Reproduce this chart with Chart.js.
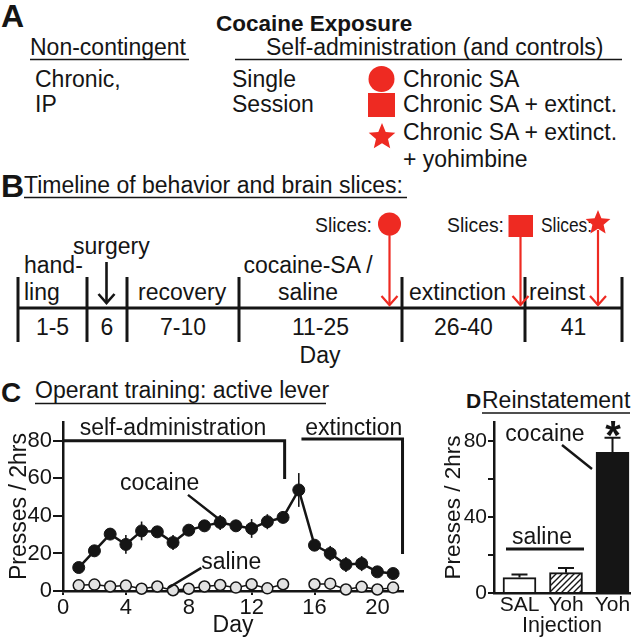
<!DOCTYPE html>
<html>
<head>
<meta charset="utf-8">
<script src="https://cdn.jsdelivr.net/npm/chart.js@4.4.1/dist/chart.umd.min.js"></script>
<style>
  html, body { margin: 0; padding: 0; background: #fff; }
  #fig { position: relative; width: 638px; height: 639px; overflow: hidden; font-family: "Liberation Sans", Arial, sans-serif; }
  #art { position: absolute; left: 0; top: 0; }
  #chartC { position: absolute; left: 0; top: 380px; }
  #chartD { position: absolute; left: 420px; top: 380px; }
</style>
</head>
<body>
<div id="fig">
  <svg id="art" width="638" height="639" xmlns="http://www.w3.org/2000/svg"></svg>
  <canvas id="chartC" width="420" height="259"></canvas>
  <canvas id="chartD" width="218" height="259"></canvas>
</div>
<script>
// ---- data: panel C (operant training, active lever presses / 2 hrs) ----
const days = [1, 2, 3, 4, 5, 6, 7, 8, 9, 10, 11, 12, 13, 14, 15, 16, 17, 18, 19, 20, 21];
const cocaine = [12.5, 21.4, 30.3, 24.8, 32, 31.5, 25.8, 32.4, 34.7, 36.5, 34.7, 33.3, 36.9, 39.2, 53.8, 24.4, 20, 14.1, 14.6, 10.2, 9.3];
const cocaineSem = [2, 3, 3, 5, 5, 3, 4, 3, 3, 4, 3, 5, 4, 3, 9, 3, 4, 4, 4, 2, 2];
const saline = [3, 3.4, 2.4, 2.9, 1.2, 2.4, 0.4, 1.2, 2.4, 3.2, 1.8, 3.6, 1.4, 3.6, null, 3.6, 3.9, 0.8, 2.2, 0.8, 1.8];
const dayTicks = [0, 4, 8, 12, 16, 20];
const pressTicks = [0, 20, 40, 60, 80];

// ---- data: panel D (reinstatement) ----
const injLabels = ['SAL', 'Yoh', 'Yoh'];
const reinstMean = [8.1, 10.7, 74];
const reinstSem = [1.7, 2.5, 7.7];
const reinstTicks = [0, 20, 40, 60, 80];
const reinstLabeled = [0, 40, 80];

// ---- panel B timeline ----
const tlEdges = [18, 87, 127, 239, 402, 525, 622];
const tlDays = ['1-5', '6', '7-10', '11-25', '26-40', '41'];

const INK = '#151515';
const RED = '#ee2a22';
const FONT = "'Liberation Sans', Arial, sans-serif";

Chart.defaults.font.family = FONT;
Chart.defaults.color = INK;

// ---------- panels A and B, plus titles for C and D (svg) ----------
const svg = document.getElementById('art');
let out = '';
function t(x, y, s, size, extra) {
  out += `<text x="${x}" y="${y}" font-size="${size}" fill="${INK}" ${extra || ''}>${s}</text>`;
}
function ln(x1, y1, x2, y2, w, col) {
  out += `<line x1="${x1}" y1="${y1}" x2="${x2}" y2="${y2}" stroke="${col || INK}" stroke-width="${w}"/>`;
}
function star(cx, cy, r) {
  let p = '';
  for (let i = 0; i < 10; i++) {
    const a = -Math.PI / 2 + i * Math.PI / 5;
    const rr = i % 2 ? r * 0.45 : r;
    p += (i ? 'L' : 'M') + (cx + rr * Math.cos(a)).toFixed(1) + ',' + (cy + rr * Math.sin(a)).toFixed(1);
  }
  out += `<path d="${p}Z" fill="${RED}"/>`;
}
function downArrow(x, y1, y2, col, w) {
  ln(x, y1, x, y2, w, col);
  out += `<polyline points="${x - 8},${y2 - 9} ${x},${y2} ${x + 8},${y2 - 9}" fill="none" stroke="${col}" stroke-width="${w}"/>`;
}

// A
t(1, 27, 'A', 32, 'font-weight="bold"');
t(216, 31, 'Cocaine Exposure', 22.5, 'font-weight="bold"');
t(30, 55, 'Non-contingent', 23);
ln(30, 59.5, 189, 59.5, 1.6);
t(266, 55, 'Self-administration (and controls)', 23);
ln(235, 59.5, 622, 59.5, 1.6);
t(35, 87, 'Chronic,', 23);
t(35, 112, 'IP', 23);
t(232, 87, 'Single', 23);
t(232, 112, 'Session', 23);
out += `<circle cx="381.5" cy="79" r="13" fill="${RED}"/>`;
t(403, 87, 'Chronic SA', 23);
out += `<rect x="368" y="93" width="27" height="24" fill="${RED}"/>`;
t(403, 112, 'Chronic SA + extinct.', 23);
star(382, 137, 14);
t(403, 140, 'Chronic SA + extinct.', 23);
t(403, 167, '+ yohimbine', 23);

// B
t(1, 197, 'B', 32, 'font-weight="bold"');
t(24, 193, 'Timeline of behavior and brain slices:', 23);
ln(24, 197.5, 407, 197.5, 1.6);
ln(tlEdges[0], 308, tlEdges[tlEdges.length - 1], 308, 3);
tlEdges.forEach(x => ln(x, 277, x, 342, 3));
tlDays.forEach((d, i) => t((tlEdges[i] + tlEdges[i + 1]) / 2, 335, d, 23, 'text-anchor="middle"'));
t(320, 363, 'Day', 23, 'text-anchor="middle"');
t(24, 273, 'hand-', 23);
t(24, 300, 'ling', 23);
t(73, 254, 'surgery', 23);
downArrow(106.5, 262, 303, INK, 2.6);
t(138, 300, 'recovery', 23);
t(308, 273, 'cocaine-SA /', 23, 'text-anchor="middle"');
t(308, 300, 'saline', 23, 'text-anchor="middle"');
t(409, 300, 'extinction', 23);
t(529, 300, 'reinst', 23);
// slice markers
const slX = [389.5, 520.5, 598];
t(372, 232, 'Slices:', 21, 'text-anchor="end" textLength="57" lengthAdjust="spacingAndGlyphs"');
t(504, 232, 'Slices:', 21, 'text-anchor="end" textLength="57" lengthAdjust="spacingAndGlyphs"');
t(592, 232, 'Slices:', 21, 'text-anchor="end" textLength="51" lengthAdjust="spacingAndGlyphs"');
downArrow(slX[0], 230, 305, RED, 2.2);
downArrow(slX[1], 230, 305, RED, 2.2);
downArrow(slX[2], 230, 305, RED, 2.2);
out += `<circle cx="${slX[0]}" cy="224" r="11.5" fill="${RED}"/>`;
out += `<rect x="508.5" y="215" width="24.5" height="22" fill="${RED}"/>`;
star(slX[2], 223, 13);

// C / D titles
t(1, 402, 'C', 28, 'font-weight="bold"');
t(35, 398, 'Operant training: active lever', 23);
ln(35, 403.5, 326, 403.5, 1.6);
t(466, 408, 'D', 21, 'font-weight="bold"');
t(482, 408, 'Reinstatement', 23);
ln(482, 413, 630, 413, 1.6);
svg.innerHTML = out;

// ---------- panel C ----------
const semPlugin = {
  id: 'semC',
  beforeDatasetsDraw(chart) {
    const { ctx, scales: { x, y } } = chart;
    ctx.save();
    ctx.strokeStyle = INK;
    ctx.lineWidth = 1.6;
    days.forEach((d, i) => {
      const px = x.getPixelForValue(d);
      ctx.beginPath();
      ctx.moveTo(px, y.getPixelForValue(cocaine[i] - cocaineSem[i]));
      ctx.lineTo(px, y.getPixelForValue(cocaine[i] + cocaineSem[i]));
      ctx.stroke();
    });
    ctx.restore();
  }
};

const notesC = {
  id: 'notesC',
  afterDatasetsDraw(chart) {
    const { ctx, scales: { x, y } } = chart;
    const X = v => x.getPixelForValue(v), Y = v => y.getPixelForValue(v);
    ctx.save();
    ctx.strokeStyle = INK;
    ctx.fillStyle = INK;
    ctx.lineWidth = 3;
    // phase brackets
    ctx.beginPath();
    ctx.moveTo(X(0), Y(80)); ctx.lineTo(X(14.1), Y(80)); ctx.lineTo(X(14.1), Y(59.7));
    ctx.moveTo(X(15.17), Y(81)); ctx.lineTo(X(21.6), Y(81)); ctx.lineTo(X(21.6), Y(19.7));
    ctx.stroke();
    ctx.font = '23px ' + FONT;
    ctx.textAlign = 'center';
    ctx.textBaseline = 'middle';
    ctx.fillText('self-administration', X(7.0), Y(86.5));
    ctx.fillText('extinction', X(18.5), Y(86.5));
    ctx.fillText('cocaine', X(6.15), Y(57));
    ctx.fillText('saline', X(10.7), Y(15));
    // leader lines
    ctx.lineWidth = 2.5;
    ctx.beginPath();
    ctx.moveTo(X(7.95), Y(51.2)); ctx.lineTo(X(9.97), Y(37.9));
    ctx.moveTo(X(8.8), Y(12.3)); ctx.lineTo(X(6.68), Y(1.6));
    ctx.stroke();
    ctx.restore();
  }
};

new Chart(document.getElementById('chartC'), {
  type: 'line',
  data: {
    datasets: [
      {
        label: 'cocaine',
        data: days.map((d, i) => ({ x: d, y: cocaine[i] })),
        borderColor: INK, borderWidth: 2.5,
        pointRadius: 6, pointBackgroundColor: INK, pointBorderColor: INK, pointBorderWidth: 1,
        clip: false
      },
      {
        label: 'saline',
        data: days.map((d, i) => ({ x: d, y: saline[i] })),
        borderColor: INK, borderWidth: 1.5, spanGaps: false,
        pointRadius: 5.5, pointBackgroundColor: '#e2e2e2', pointBorderColor: INK, pointBorderWidth: 1.5,
        clip: false
      }
    ]
  },
  options: {
    responsive: false,
    animation: false,
    events: [],
    layout: { padding: { top: 42, right: 17, left: 0, bottom: 0 } },
    plugins: { legend: { display: false }, tooltip: { enabled: false } },
    scales: {
      x: {
        type: 'linear', min: 0, max: 21.63,
        afterBuildTicks: s => { s.ticks = dayTicks.map(v => ({ value: v })); },
        afterFit: s => { s.height = 48; },
        grid: { display: true, drawOnChartArea: false, drawTicks: true, tickLength: 4, color: INK, lineWidth: 2 },
        border: { display: true, color: INK, width: 2.5 },
        ticks: { font: { size: 22 }, color: INK, padding: 0, maxRotation: 0, autoSkip: false },
        title: { display: true, text: 'Day', font: { size: 23 }, color: INK, padding: { top: 2, bottom: 0 } }
      },
      y: {
        min: 0, max: 90,
        afterBuildTicks: s => { s.ticks = pressTicks.map(v => ({ value: v })); },
        afterFit: s => { s.width = 63; },
        grid: { display: true, drawOnChartArea: false, drawTicks: true, tickLength: 10, color: INK, lineWidth: 2 },
        border: { display: true, color: INK, width: 2.5 },
        ticks: { font: { size: 22 }, color: INK, padding: 1 },
        title: { display: true, text: 'Presses / 2hrs', font: { size: 23 }, color: INK, padding: { top: 6, bottom: 0 } }
      }
    }
  },
  plugins: [semPlugin, notesC]
});

// ---------- panel D ----------
function makeHatch() {
  const c = document.createElement('canvas');
  c.width = 6; c.height = 6;
  const g = c.getContext('2d');
  g.fillStyle = '#fff';
  g.fillRect(0, 0, 6, 6);
  g.strokeStyle = INK;
  g.lineWidth = 1.4;
  g.beginPath();
  g.moveTo(-1, 7); g.lineTo(7, -1);
  g.moveTo(-1, 1); g.lineTo(1, -1);
  g.moveTo(5, 7); g.lineTo(7, 5);
  g.stroke();
  return g.createPattern(c, 'repeat');
}

const notesD = {
  id: 'notesD',
  afterDatasetsDraw(chart) {
    const { ctx, scales: { x, y } } = chart;
    const X = v => x.getPixelForValue(v), Y = v => y.getPixelForValue(v);
    ctx.save();
    ctx.strokeStyle = INK;
    ctx.fillStyle = INK;
    // error bars (upper only)
    ctx.lineWidth = 2;
    reinstMean.forEach((m, i) => {
      const px = X(i), top = Y(m + reinstSem[i]);
      ctx.beginPath();
      ctx.moveTo(px, Y(m)); ctx.lineTo(px, top);
      ctx.moveTo(px - 8, top); ctx.lineTo(px + 8, top);
      ctx.stroke();
    });
    // saline bracket + labels
    ctx.lineWidth = 3;
    ctx.beginPath();
    ctx.moveTo(X(-0.29), Y(23.2)); ctx.lineTo(X(1.387), Y(23.2));
    ctx.stroke();
    ctx.lineWidth = 2.5;
    ctx.beginPath();
    ctx.moveTo(X(0.914), Y(77.9)); ctx.lineTo(X(1.559), Y(65.3));
    ctx.stroke();
    ctx.font = '23px ' + FONT;
    ctx.textAlign = 'center';
    ctx.textBaseline = 'middle';
    ctx.fillText('saline', X(0.484), Y(28.9));
    ctx.fillText('cocaine', X(0.548), Y(83.2));
    ctx.font = 'bold 40px ' + FONT;
    ctx.textBaseline = 'alphabetic';
    ctx.fillText('*', X(2.01), Y(76));
    ctx.restore();
  }
};

new Chart(document.getElementById('chartD'), {
  type: 'bar',
  data: {
    datasets: [{
      data: reinstMean.map((v, i) => ({ x: i, y: v })),
      backgroundColor: ['#ffffff', makeHatch(), INK],
      borderColor: INK,
      borderWidth: 2,
      borderSkipped: 'bottom',
      barThickness: 33,
      clip: false
    }]
  },
  options: {
    responsive: false,
    animation: false,
    events: [],
    layout: { padding: { top: 42, right: 8, left: 0, bottom: 0 } },
    plugins: { legend: { display: false }, tooltip: { enabled: false } },
    scales: {
      x: {
        type: 'linear', min: -0.548, max: 2.376, offset: false,
        afterBuildTicks: s => { s.ticks = injLabels.map((_, i) => ({ value: i })); },
        afterFit: s => { s.height = 46; },
        grid: { display: false, drawTicks: false },
        border: { display: true, color: INK, width: 2.5 },
        ticks: { font: { size: 21 }, color: INK, padding: 0, maxRotation: 0, autoSkip: false,
          callback: v => injLabels[v] },
        title: { display: true, text: 'Injection', font: { size: 21.5 }, color: INK, padding: { top: 4, bottom: 0 } }
      },
      y: {
        min: 0, max: 90,
        afterBuildTicks: s => { s.ticks = reinstTicks.map(v => ({ value: v })); },
        afterFit: s => { s.width = 74; },
        grid: { display: true, drawOnChartArea: false, drawTicks: true, tickLength: 6, color: INK, lineWidth: 2 },
        border: { display: true, color: INK, width: 2.5 },
        ticks: { font: { size: 21 }, color: INK, padding: 1,
          callback: v => reinstLabeled.includes(v) ? v : '' },
        title: { display: true, text: 'Presses / 2hrs', font: { size: 22.5 }, color: INK, padding: { top: 20, bottom: 0 } }
      }
    }
  },
  plugins: [notesD]
});
</script>
</body>
</html>
